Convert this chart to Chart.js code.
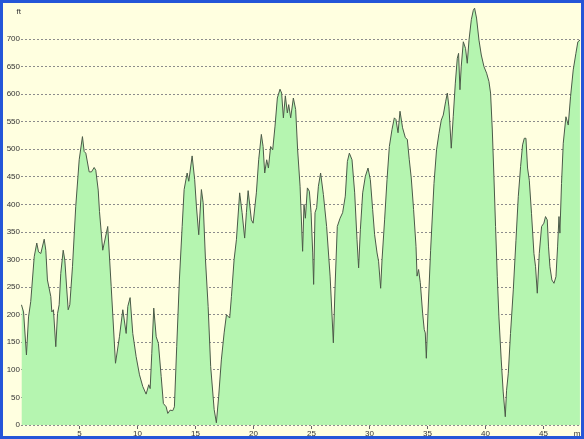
<!DOCTYPE html>
<html>
<head>
<meta charset="utf-8">
<script src="https://cdn.jsdelivr.net/npm/chart.js@4.4.1/dist/chart.umd.min.js"></script>
<style>
  html, body { margin: 0; padding: 0; background: #ffffe0; }
  #wrap { width: 584px; height: 439px; position: relative; }
</style>
</head>
<body>
<div id="wrap"><canvas id="profile"></canvas></div>
<script>
// distance along the route (mi) and elevation (ft)
const miles = [
  0.04, 0.22, 0.47, 0.65, 0.84, 1.14, 1.36, 1.51, 1.71, 2.00, 2.14, 2.28, 2.57, 2.66, 2.80,
  3.00, 3.15, 3.29, 3.43, 3.64, 3.78, 3.95, 4.07, 4.21, 4.44, 4.72, 5.02, 5.30, 5.45, 5.59,
  5.88, 6.08, 6.31, 6.45, 6.66, 6.77, 7.05, 7.48, 7.78, 8.15, 8.49, 8.78, 9.07, 9.21, 9.41,
  9.64, 9.93, 10.22, 10.50, 10.79, 11.02, 11.14, 11.28, 11.45, 11.66, 11.85, 12.09, 12.28, 12.52, 12.66,
  12.86, 13.09, 13.23, 13.43, 13.66, 13.90, 14.07, 14.33, 14.47, 14.76, 14.98, 15.13, 15.33, 15.56, 15.71,
  15.91, 16.14, 16.36, 16.66, 16.85, 17.05, 17.28, 17.52, 17.72, 18.00, 18.15, 18.38, 18.58, 18.86, 19.07,
  19.29, 19.44, 19.59, 19.87, 20.02, 20.30, 20.50, 20.73, 20.88, 21.02, 21.19, 21.34, 21.53, 21.71, 21.91,
  22.11, 22.34, 22.48, 22.63, 22.80, 22.97, 23.09, 23.26, 23.49, 23.69, 23.86, 24.07, 24.29, 24.41, 24.53,
  24.70, 24.87, 25.02, 25.16, 25.24, 25.36, 25.50, 25.65, 25.84, 26.08, 26.36, 26.66, 26.94, 27.09, 27.28,
  27.52, 27.74, 27.97, 28.15, 28.32, 28.55, 28.78, 28.98, 29.12, 29.27, 29.47, 29.70, 29.93, 30.13, 30.33,
  30.50, 30.71, 30.84, 31.02, 31.14, 31.36, 31.57, 31.77, 32.00, 32.20, 32.34, 32.52, 32.69, 32.91, 33.15,
  33.32, 33.49, 33.66, 33.86, 34.07, 34.16, 34.29, 34.44, 34.64, 34.78, 34.87, 34.96, 35.10, 35.33, 35.62,
  35.84, 36.05, 36.25, 36.42, 36.62, 36.77, 36.91, 37.11, 37.28, 37.46, 37.63, 37.74, 37.86, 37.97, 38.15,
  38.34, 38.49, 38.64, 38.84, 39.01, 39.12, 39.29, 39.50, 39.70, 39.93, 40.16, 40.36, 40.50, 40.65, 40.79,
  40.93, 41.08, 41.22, 41.42, 41.59, 41.77, 41.88, 42.03, 42.22, 42.46, 42.69, 42.89, 43.09, 43.26, 43.41,
  43.55, 43.69, 43.84, 44.03, 44.24, 44.38, 44.53, 44.70, 44.90, 45.10, 45.24, 45.39, 45.50, 45.62, 45.79,
  45.97, 46.14, 46.28, 46.40, 46.48, 46.62, 46.77, 47.00, 47.20, 47.40, 47.63, 47.86, 48.03, 48.21
];
const elevation = [
  218, 205, 127, 196, 224, 305, 330, 314, 311, 337, 317, 263, 233, 205, 209,
  142, 202, 218, 275, 317, 299, 245, 209, 218, 287, 396, 481, 523, 496, 493,
  459, 459, 467, 462, 426, 387, 317, 360, 251, 112, 160, 209, 166, 215, 231,
  166, 124, 91, 70, 56, 73, 66, 130, 212, 160, 148, 88, 39, 33, 21,
  27, 26, 33, 142, 263, 360, 427, 457, 442, 488, 445, 397, 345, 427, 403,
  300, 215, 106, 28, 4, 52, 118, 167, 200, 194, 233, 300, 336, 421, 385,
  339, 385, 425, 372, 366, 421, 481, 527, 505, 457, 481, 466, 505, 499, 542,
  593, 609, 602, 557, 597, 566, 581, 557, 593, 572, 499, 433, 315, 400, 375,
  430, 424, 385, 312, 255, 385, 394, 433, 457, 418, 360, 270, 149, 252, 360,
  375, 385, 415, 478, 493, 481, 421, 336, 285, 354, 421, 451, 466, 445, 391,
  345, 312, 297, 248, 300, 372, 445, 505, 536, 557, 554, 530, 569, 539, 521,
  518, 481, 448, 391, 324, 270, 282, 258, 203, 173, 167, 121, 203, 317, 438,
  499, 529, 553, 562, 586, 602, 577, 502, 559, 620, 665, 674, 608, 650, 695,
  683, 656, 698, 735, 752, 756, 738, 698, 671, 650, 638, 623, 602, 535, 450,
  360, 269, 196, 118, 60, 15, 63, 94, 166, 245, 335, 414, 469, 508, 520,
  520, 466, 444, 384, 311, 287, 239, 311, 360, 366, 378, 372, 323, 287, 263,
  257, 269, 323, 378, 348, 438, 511, 559, 544, 596, 644, 674, 695, 698
];
const yTicks = [0, 50, 100, 150, 200, 250, 300, 350, 400, 450, 500, 550, 600, 650, 700];
const xTicks = [5, 10, 15, 20, 25, 30, 35, 40, 45];

const labelFont = "8px 'Liberation Sans Narrow', 'Liberation Sans', Arial, sans-serif";

// background, frame and the axis labels (placed with the chart's own scales)
const profileDecor = {
  id: 'profileDecor',
  beforeDraw(chart) {
    const ctx = chart.ctx;
    ctx.save();
    ctx.fillStyle = '#ffffe0';
    ctx.fillRect(0, 0, chart.width, chart.height);
    ctx.restore();
  },
  afterDraw(chart) {
    const ctx = chart.ctx;
    const xs = chart.scales.x;
    const ys = chart.scales.y;
    const area = chart.chartArea;
    ctx.save();
    ctx.font = labelFont;
    ctx.fillStyle = '#333333';
    ctx.textBaseline = 'middle';

    ctx.textAlign = 'right';
    yTicks.forEach(v => {
      ctx.fillText(String(v), 20, ys.getPixelForValue(v));
    });
    ctx.fillText('ft', 21, 12);

    ctx.textAlign = 'center';
    ctx.strokeStyle = '#666666';
    ctx.lineWidth = 1;
    xTicks.forEach(v => {
      const px = Math.round(xs.getPixelForValue(v)) + 0.5;
      ctx.beginPath();
      ctx.moveTo(px, area.bottom + 1);
      ctx.lineTo(px, area.bottom + 4);
      ctx.stroke();
      ctx.fillText(String(v), px, area.bottom + 9);
    });
    ctx.fillText('mi', 578, area.bottom + 9);

    // window frame
    ctx.strokeStyle = '#2456d8';
    ctx.lineWidth = 3;
    ctx.strokeRect(1.5, 1.5, chart.width - 3, chart.height - 3);
    ctx.restore();
  }
};

const ctx = document.getElementById('profile').getContext('2d');
new Chart(ctx, {
  type: 'line',
  data: {
    datasets: [{
      data: miles.map((m, i) => ({ x: m, y: elevation[i] })),
      borderColor: '#4b5a48',
      borderWidth: 1,
      backgroundColor: '#b5f5b0',
      fill: 'origin',
      pointRadius: 0,
      tension: 0
    }]
  },
  plugins: [profileDecor],
  options: {
    responsive: true,
    maintainAspectRatio: false,
    animation: false,
    events: [],
    layout: { padding: { left: 21, right: 3, top: 4, bottom: 14 } },
    plugins: {
      legend: { display: false },
      tooltip: { enabled: false }
    },
    scales: {
      x: {
        type: 'linear',
        min: 0,
        max: 48.3,
        grid: { display: false, drawTicks: false },
        border: { display: false },
        ticks: { display: false }
      },
      y: {
        min: 0,
        max: 763.5,
        z: 1,
        afterBuildTicks: scale => {
          scale.ticks = yTicks.map(v => ({ value: v }));
        },
        grid: { color: '#8c8c8c', lineWidth: 1, drawTicks: false },
        border: { display: false, dash: [2, 2] },
        ticks: { display: false }
      }
    }
  }
});
</script>
</body>
</html>
